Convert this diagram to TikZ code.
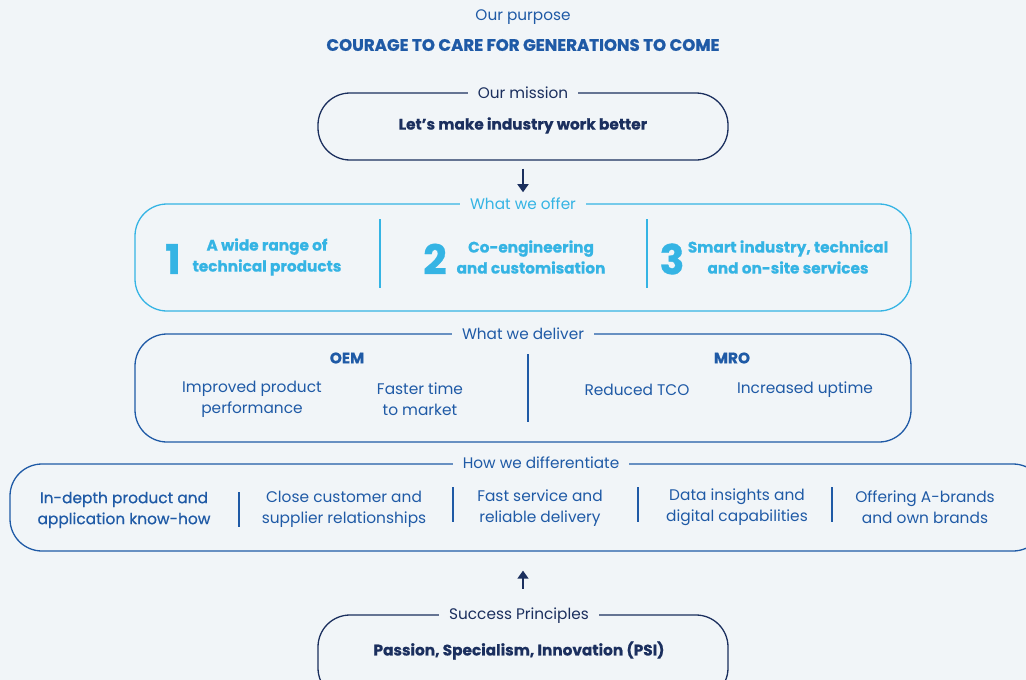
\documentclass[tikz,border=0pt]{standalone}
\usepackage{fontspec}
\setmainfont{Poppins}
\newfontfamily\medfont[FakeBold=0.5]{Poppins}
\usetikzlibrary{arrows.meta,positioning}
\definecolor{pagebg}{HTML}{F1F5F8}
\definecolor{navy}{HTML}{1B2F5E}
\definecolor{midblue}{HTML}{1F5AA6}
\definecolor{skyblue}{HTML}{35B4E4}

\begin{document}
\begin{tikzpicture}[x=1pt,y=-1pt,
	box/.style={draw, line width=1.3pt, rounded corners=32pt, inner sep=0pt},
	boxlabel/.style={fill=pagebg, inner xsep=10pt, inner ysep=2pt, font=\fontsize{15.3}{18}\selectfont},
	item/.style={align=center, font=\fontsize{15.4}{21}\selectfont},
	bolditem/.style={align=center, font=\fontsize{15.3}{21}\selectfont\bfseries\addfontfeatures{FakeBold=0.6}},
	bignum/.style={font=\fontsize{41}{41}\selectfont\bfseries\addfontfeatures{FakeBold=0.8}},
	divider/.style={line width=1.8pt},
	flow/.style={line width=1.6pt, navy, -{Triangle[width=11pt,length=8pt]}}]

	\fill[pagebg] (0,0) rectangle (1026,680);
	\useasboundingbox (0,0) rectangle (1026,680);

	% purpose
	\node (purpose) at (523,17) [boxlabel, fill=none, text=midblue] {Our purpose};
	\node (courage) at (523,45) [text=midblue, font=\fontsize{16.6}{18}\selectfont\bfseries\addfontfeatures{FakeBold=1}] {COURAGE TO CARE FOR GENERATIONS TO COME};

	% mission
	\node (mission) at (523,126.5) [box, navy, minimum width=410pt, minimum height=67pt] {};
	\node (missionlbl) at (mission.north) [boxlabel, text=navy] {Our mission};
	\node (missiontxt) at (523,125.5) [bolditem, text=navy] {Let’s make industry work better};

	% offer
	\node (offer) at (523,257.5) [box, skyblue, minimum width=776pt, minimum height=107pt] {};
	\node (offerlbl) at (offer.north) [boxlabel, text=skyblue] {What we offer};
	\node (one) at (173,259) [bignum, text=skyblue] {1};
	\node (onetxt) at (267,257) [bolditem, text=skyblue] {A wide range of\\technical products};
	\node (two) at (435,259) [bignum, text=skyblue] {2};
	\node (twotxt) at (531,257) [bolditem, text=skyblue] {Co-engineering\\and customisation};
	\node (three) at (672,259) [bignum, text=skyblue] {3};
	\node (threetxt) at (788,257) [bolditem, text=skyblue] {Smart industry, technical\\and on-site services};
	\draw[divider, skyblue] (380,219) -- (380,288);
	\draw[divider, skyblue] (647,219) -- (647,288);

	% deliver
	\node (deliver) at (523,388) [box, midblue, minimum width=776pt, minimum height=108pt] {};
	\node (deliverlbl) at (deliver.north) [boxlabel, text=midblue] {What we deliver};
	\node (oem) at (347,358) [bolditem, text=midblue] {OEM};
	\node (perf) at (252,399.5) [item, text=midblue] {Improved product\\performance};
	\node (faster) at (420,399.5) [item, text=midblue] {Faster time\\to market};
	\node (mro) at (732,358) [bolditem, text=midblue] {MRO};
	\node (tco) at (637,390) [item, text=midblue] {Reduced TCO};
	\node (uptime) at (805,390) [item, text=midblue] {Increased uptime};
	\draw[divider, midblue] (528,354) -- (528,422);

	% differentiate
	\node (diff) at (527.5,507.5) [box, midblue, minimum width=1035pt, minimum height=87pt] {};
	\node (difflbl) at (541,462.5) [boxlabel, text=midblue] {How we differentiate};
	\node (knowhow) at (124,510) [item, text=midblue, font=\fontsize{15.4}{21}\medfont] {In-depth product and\\application know-how};
	\node (relations) at (344,509) [item, text=midblue] {Close customer and\\supplier relationships};
	\node (service) at (540,508) [item, text=midblue] {Fast service and\\reliable delivery};
	\node (data) at (737,507) [item, text=midblue] {Data insights and\\digital capabilities};
	\node (brands) at (925,507) [item, text=midblue] {Offering A-brands\\and own brands};
	\draw[divider, midblue] (239,492) -- (239,527);
	\draw[divider, midblue] (453,487) -- (453,522);
	\draw[divider, midblue] (638,487) -- (638,522);
	\draw[divider, midblue] (832,487) -- (832,522);

	% success principles
	\node (psi) at (523,657.5) [box, navy, minimum width=410pt, minimum height=85pt] {};
	\node (psilbl) at (519,616) [boxlabel, text=navy] {Success Principles};
	\node (psitxt) at (519,650.5) [bolditem, text=navy] {Passion, Specialism, Innovation (PSI)};

	% arrows
	\draw[flow, shorten <=8pt, shorten >=3pt] (mission.south) -- (mission.south |- offerlbl.north);
	\draw[flow, shorten <=17pt, shorten >=19pt] (psi.north |- psilbl.north) -- (psi.north |- diff.south);
\end{tikzpicture}
\end{document}
